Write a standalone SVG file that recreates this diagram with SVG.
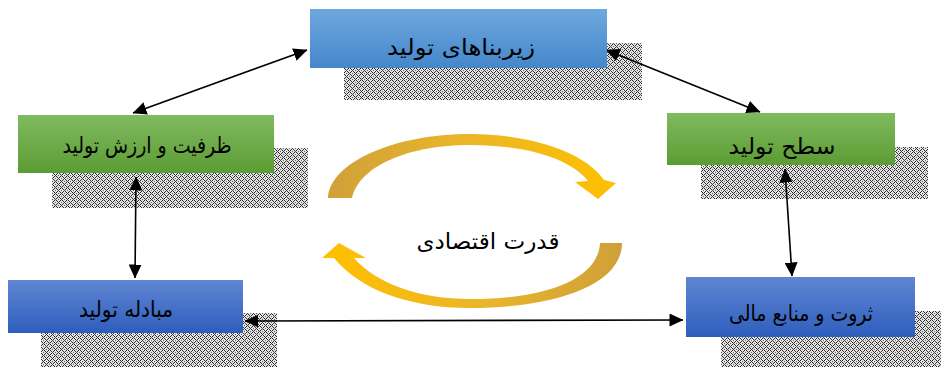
<svg xmlns="http://www.w3.org/2000/svg" width="941" height="367" viewBox="0 0 941 367">
<defs>
<style>
.lbl{font-family:"DejaVu Sans","Noto Sans",sans-serif;font-size:22px;fill:#000;text-anchor:middle}
.shd{fill:url(#hatch)}
.con{stroke:#000;stroke-width:1.6;fill:none;marker-start:url(#ah);marker-end:url(#ah)}
</style>
<pattern id="hatch" width="6" height="6" patternUnits="userSpaceOnUse">
<rect width="6" height="6" fill="#e4e4e4"/>
<rect x="0" y="0" width="1" height="1" fill="#222"/>
<rect x="2" y="0" width="1" height="1" fill="#222"/>
<rect x="1" y="1" width="1" height="1" fill="#444"/>
<rect x="0" y="2" width="1" height="1" fill="#222"/>
<rect x="2" y="2" width="1" height="1" fill="#222"/>
<rect x="4" y="1" width="1" height="1" fill="#555"/>
<rect x="3" y="3" width="1" height="1" fill="#333"/>
<rect x="5" y="3" width="1" height="1" fill="#333"/>
<rect x="4" y="4" width="1" height="1" fill="#444"/>
<rect x="3" y="5" width="1" height="1" fill="#333"/>
<rect x="5" y="5" width="1" height="1" fill="#333"/>
<rect x="1" y="4" width="1" height="1" fill="#666"/>
</pattern>
<linearGradient id="gTop" x1="0" y1="0" x2="0" y2="1">
<stop offset="0" stop-color="#6EA8DE"/><stop offset="1" stop-color="#4587CB"/>
</linearGradient>
<linearGradient id="gGreen" x1="0" y1="0" x2="0" y2="1">
<stop offset="0" stop-color="#80BA60"/><stop offset="1" stop-color="#5C9C33"/>
</linearGradient>
<linearGradient id="gBlue" x1="0" y1="0" x2="0" y2="1">
<stop offset="0" stop-color="#5F86D2"/><stop offset="1" stop-color="#2E5EBD"/>
</linearGradient>
<linearGradient id="gArcU" x1="328" y1="0" x2="616" y2="0" gradientUnits="userSpaceOnUse">
<stop offset="0" stop-color="#CFA03A"/><stop offset="0.45" stop-color="#E9B52A"/><stop offset="1" stop-color="#FFC000"/>
</linearGradient>
<linearGradient id="gArcL" x1="622" y1="0" x2="322" y2="0" gradientUnits="userSpaceOnUse">
<stop offset="0" stop-color="#CFA03A"/><stop offset="0.45" stop-color="#E9B52A"/><stop offset="1" stop-color="#FFC000"/>
</linearGradient>
<marker id="ah" viewBox="0 0 14 13" refX="13.5" refY="6.5" markerWidth="14" markerHeight="13" markerUnits="userSpaceOnUse" orient="auto-start-reverse">
<path d="M0,0 L14,6.5 L0,13 z" fill="#000"/>
</marker>
</defs>
<rect width="941" height="367" fill="#fff"/>

<g id="shadows">
<rect class="shd" x="344" y="43" width="298" height="57"/>
<rect class="shd" x="52" y="148" width="256" height="60"/>
<rect class="shd" x="701" y="147" width="227" height="52"/>
<rect class="shd" x="41" y="313" width="236" height="54"/>
<rect class="shd" x="721" y="311" width="220" height="56"/>
</g>

<g id="cycle">
<path d="M 328,198 C 330,162 395,134 470,134 C 530,134 585,152 604,180 L 616,183 L 598,199 L 575,182 L 588,181 C 570,158 525,145 470,145 C 410,145 360,165 352,198 Z" fill="url(#gArcU)"/>
<path d="M 622,243 C 622,285 555,308 470,308 C 410,308 360,290 334,258 L 322,258 L 339,243 L 366,258 L 354,258 C 377,284 420,299 470,299 C 545,299 598,280 600,243 Z" fill="url(#gArcL)"/>
<text class="lbl" x="488" y="249" direction="rtl" textLength="143" lengthAdjust="spacingAndGlyphs">قدرت اقتصادی</text>
</g>

<g id="connectors">
<line class="con" x1="133" y1="113" x2="307" y2="50"/>
<line class="con" x1="606" y1="50" x2="760" y2="112"/>
<line class="con" x1="136" y1="177" x2="135" y2="278"/>
<line class="con" x1="785" y1="169" x2="792" y2="276"/>
<line class="con" x1="245" y1="321" x2="683" y2="320"/>
</g>

<g id="node-top">
<rect x="310" y="9" width="297" height="59" fill="url(#gTop)"/>
<text class="lbl" x="461" y="55" direction="rtl" textLength="148" lengthAdjust="spacingAndGlyphs">زیربناهای تولید</text>
</g>
<g id="node-left">
<rect x="18" y="115" width="256" height="58" fill="url(#gGreen)"/>
<text class="lbl" x="147" y="153" direction="rtl" textLength="169" lengthAdjust="spacingAndGlyphs">ظرفیت و ارزش تولید</text>
</g>
<g id="node-right">
<rect x="667" y="113" width="228" height="52" fill="url(#gGreen)"/>
<text class="lbl" x="782" y="154" direction="rtl" textLength="107" lengthAdjust="spacingAndGlyphs">سطح تولید</text>
</g>
<g id="node-bottom-left">
<rect x="8" y="280" width="235" height="53" fill="url(#gBlue)"/>
<text class="lbl" x="126" y="317" direction="rtl" textLength="94" lengthAdjust="spacingAndGlyphs">مبادله تولید</text>
</g>
<g id="node-bottom-right">
<rect x="686" y="277" width="229" height="60" fill="url(#gBlue)"/>
<text class="lbl" x="801" y="321" direction="rtl" textLength="144" lengthAdjust="spacingAndGlyphs">ثروت و منابع مالی</text>
</g>
</svg>
